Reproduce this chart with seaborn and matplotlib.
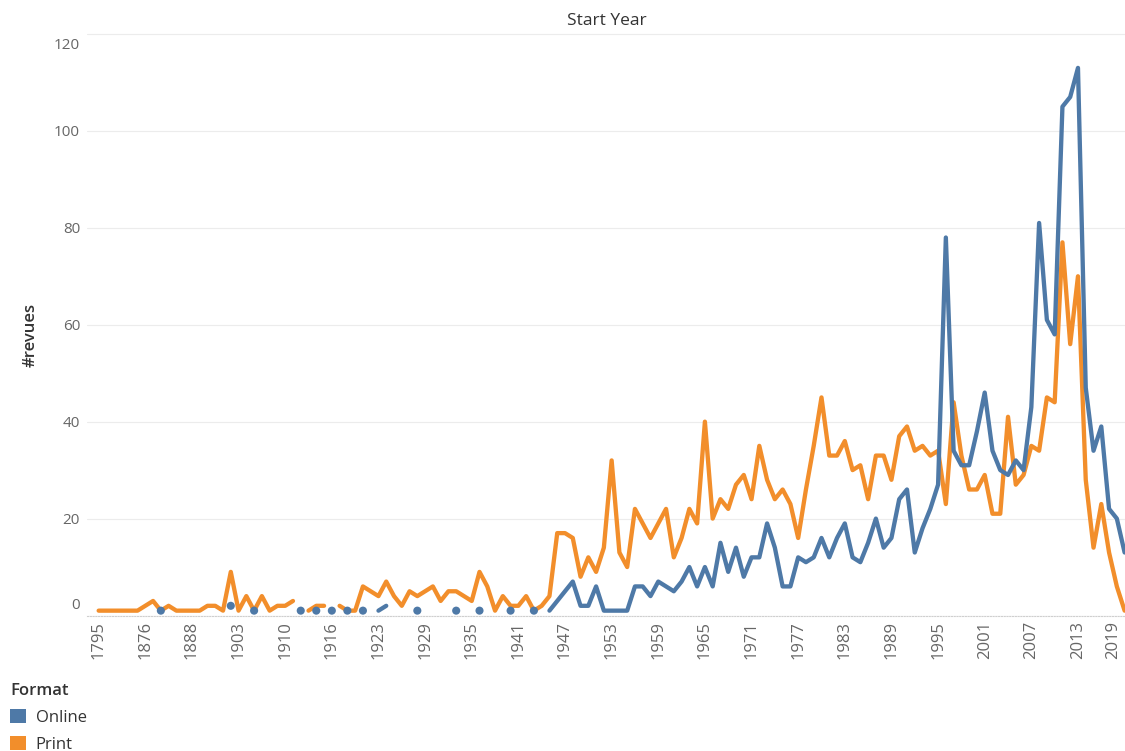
import matplotlib
matplotlib.use("Agg")
import matplotlib.pyplot as plt
import matplotlib.transforms as mtransforms
from matplotlib.patches import Patch
import pandas as pd
import seaborn as sns

# categories on the x axis (Tableau discrete years, only the years present in the data)
years = [1795, 1820, 1835, 1850, 1860, 1868, 1876,
         1878, 1880, 1882, 1884, 1886, 1888,
         1890, 1892, 1895, 1898, 1900, 1903,
         1904, 1905, 1906, 1907, 1908, 1910,
         1911, 1912, 1913, 1914, 1915, 1916,
         1917, 1918, 1919, 1920, 1921, 1923] + list(range(1924, 2020))

N = None
online = [N, N, N, N, N, N, N, N, 1, N, N, N, N, N, N, N, N, 2, N, N,
          1, N, N, N, N, N, 1, N, 1, N, 1, N, 1, N, 1, N, 1, 2, N, N,
          N, 1, N, N, N, N, 1, N, N, 1, N, N, N, 1, N, N, 1, N, 1, 3,
          5, 7, 2, 2, 6, 1, 1, 1, 1, 6, 6, 4, 7, 6, 5, 7, 10, 6, 10, 6,
          15, 9, 14, 8, 12, 12, 19, 14, 6, 6, 12, 11, 12, 16, 12, 16, 19, 12, 11, 15,
          20, 14, 16, 24, 26, 13, 18, 22, 27, 78, 34, 31, 31, 38, 46, 34, 30, 29, 32, 30,
          43, 81, 61, 58, 105, 107, 113, 47, 34, 39, 22, 20, 13]

printed = [1, 1, 1, 1, 1, 1, 2, 3, 1, 2, 1, 1, 1, 1, 2, 2, 1, 9, 1, 4,
           1, 4, 1, 2, 2, 3, N, 1, 2, 2, N, 2, 1, 1, 6, 5, 4, 7, 4, 2,
           5, 4, 5, 6, 3, 5, 5, 4, 3, 9, 6, 1, 4, 2, 2, 4, 1, 2, 4, 17,
           17, 16, 8, 12, 9, 14, 32, 13, 10, 22, 19, 16, 19, 22, 12, 16, 22, 19, 40, 20,
           24, 22, 27, 29, 24, 35, 28, 24, 26, 23, 16, 26, 35, 45, 33, 33, 36, 30, 31, 24,
           33, 33, 28, 37, 39, 34, 35, 33, 34, 23, 44, 33, 26, 26, 29, 21, 21, 41, 27, 29,
           35, 34, 45, 44, 77, 56, 70, 28, 14, 23, 13, 6, 1]

formats = ['Online', 'Print']
colors = ['#4e79a7', '#f28e2b']
ytick_values = [0, 20, 40, 60, 80, 100, 120]

year_labels = [str(y) for y in years]

# long table, one segment id per unbroken run (Tableau breaks lines on missing years)
rows = []
for fmt, values in zip(formats, [online, printed]):
    seg = 0
    prev = False
    for i, v in enumerate(values):
        if v is None:
            prev = False
            continue
        if not prev:
            seg += 1
        rows.append({'pos': i, 'Start Year': year_labels[i], '#revues': v,
                     'Format': fmt, 'seg': f'{fmt}-{seg}'})
        prev = True
df = pd.DataFrame(rows).sort_values(['pos', 'Format']).reset_index(drop=True)
df['Start Year'] = pd.Categorical(df['Start Year'], categories=year_labels, ordered=True)
seg_size = df.groupby('seg')['pos'].transform('size')
singles = df[seg_size == 1]

sns.set_theme(style='white')
plt.rcParams['font.family'] = ['Open Sans', 'DejaVu Sans']

W, H = 1125, 751
fig = plt.figure(figsize=(W / 100, H / 100), dpi=100)
ax = fig.add_axes([87 / W, 1 - 615.5 / H, 1038 / W, (615.5 - 33) / H])

pal = dict(zip(formats, colors))
sns.lineplot(data=df, x='Start Year', y='#revues', hue='Format', hue_order=['Print', 'Online'],
             units='seg', estimator=None, palette=pal, linewidth=3.1, legend=False, ax=ax,
             solid_capstyle='round', solid_joinstyle='round')
sns.scatterplot(data=singles, x='Start Year', y='#revues', hue='Format', palette=pal,
                s=34, linewidth=0, legend=False, ax=ax, zorder=3)

ax.set_xlim(-1.5, len(years) - 0.95)
ax.set_ylim(0, 120.2)
ax.set_yticks(ytick_values)
ax.set_xticks(year_labels[::6])
ax.set_xlabel('')
ax.set_ylabel('')
ax.yaxis.grid(True, color='#ececec', linewidth=0.8)
ax.set_axisbelow(True)
for s in ['top', 'right', 'left']:
    ax.spines[s].set_visible(False)
ax.spines['bottom'].set_color('#cfcfcf')
ax.spines['bottom'].set_linestyle((0, (1, 1.5)))
ax.spines['bottom'].set_linewidth(0.8)

ax.tick_params(axis='both', length=0, colors='#666666')
ax.tick_params(axis='y', labelsize=11, pad=5)
ax.tick_params(axis='x', labelsize=12, pad=4, labelrotation=90)

fig.canvas.draw()
# Tableau nudges the end labels inside the pane
ylabs = ax.get_yticklabels()
ylabs[0].set_transform(ylabs[0].get_transform() +
                       mtransforms.ScaledTranslation(0, 12 / 100, fig.dpi_scale_trans))
ylabs[-1].set_transform(ylabs[-1].get_transform() +
                        mtransforms.ScaledTranslation(0, -10 / 100, fig.dpi_scale_trans))
xlabs = ax.get_xticklabels()
xlabs[-1].set_transform(xlabs[-1].get_transform() +
                        mtransforms.ScaledTranslation(-11 / 100, 0, fig.dpi_scale_trans))

fig.text(607 / W, 1 - 21 / H, 'Start Year', ha='center', va='center',
         fontsize=12.5, color='#333333')
fig.text(31 / W, 1 - 335 / H, '#revues', rotation=90, ha='center', va='center',
         fontsize=12, color='#333333', fontweight='semibold')

handles = [Patch(facecolor=c, edgecolor='none') for c in colors]
leg = fig.legend(handles, formats, title='Format', loc='upper left',
                 bbox_to_anchor=(10 / W, 1 - 683 / H), frameon=False,
                 fontsize=12, title_fontsize=12, handlelength=0.95, handleheight=0.95,
                 handletextpad=0.6, labelspacing=0.6, borderpad=0, borderaxespad=0,
                 alignment='left')
leg.get_title().set_fontweight('semibold')
leg.get_title().set_color('#333333')
for t in leg.get_texts():
    t.set_color('#333333')

fig.savefig('out.png', dpi=100)
